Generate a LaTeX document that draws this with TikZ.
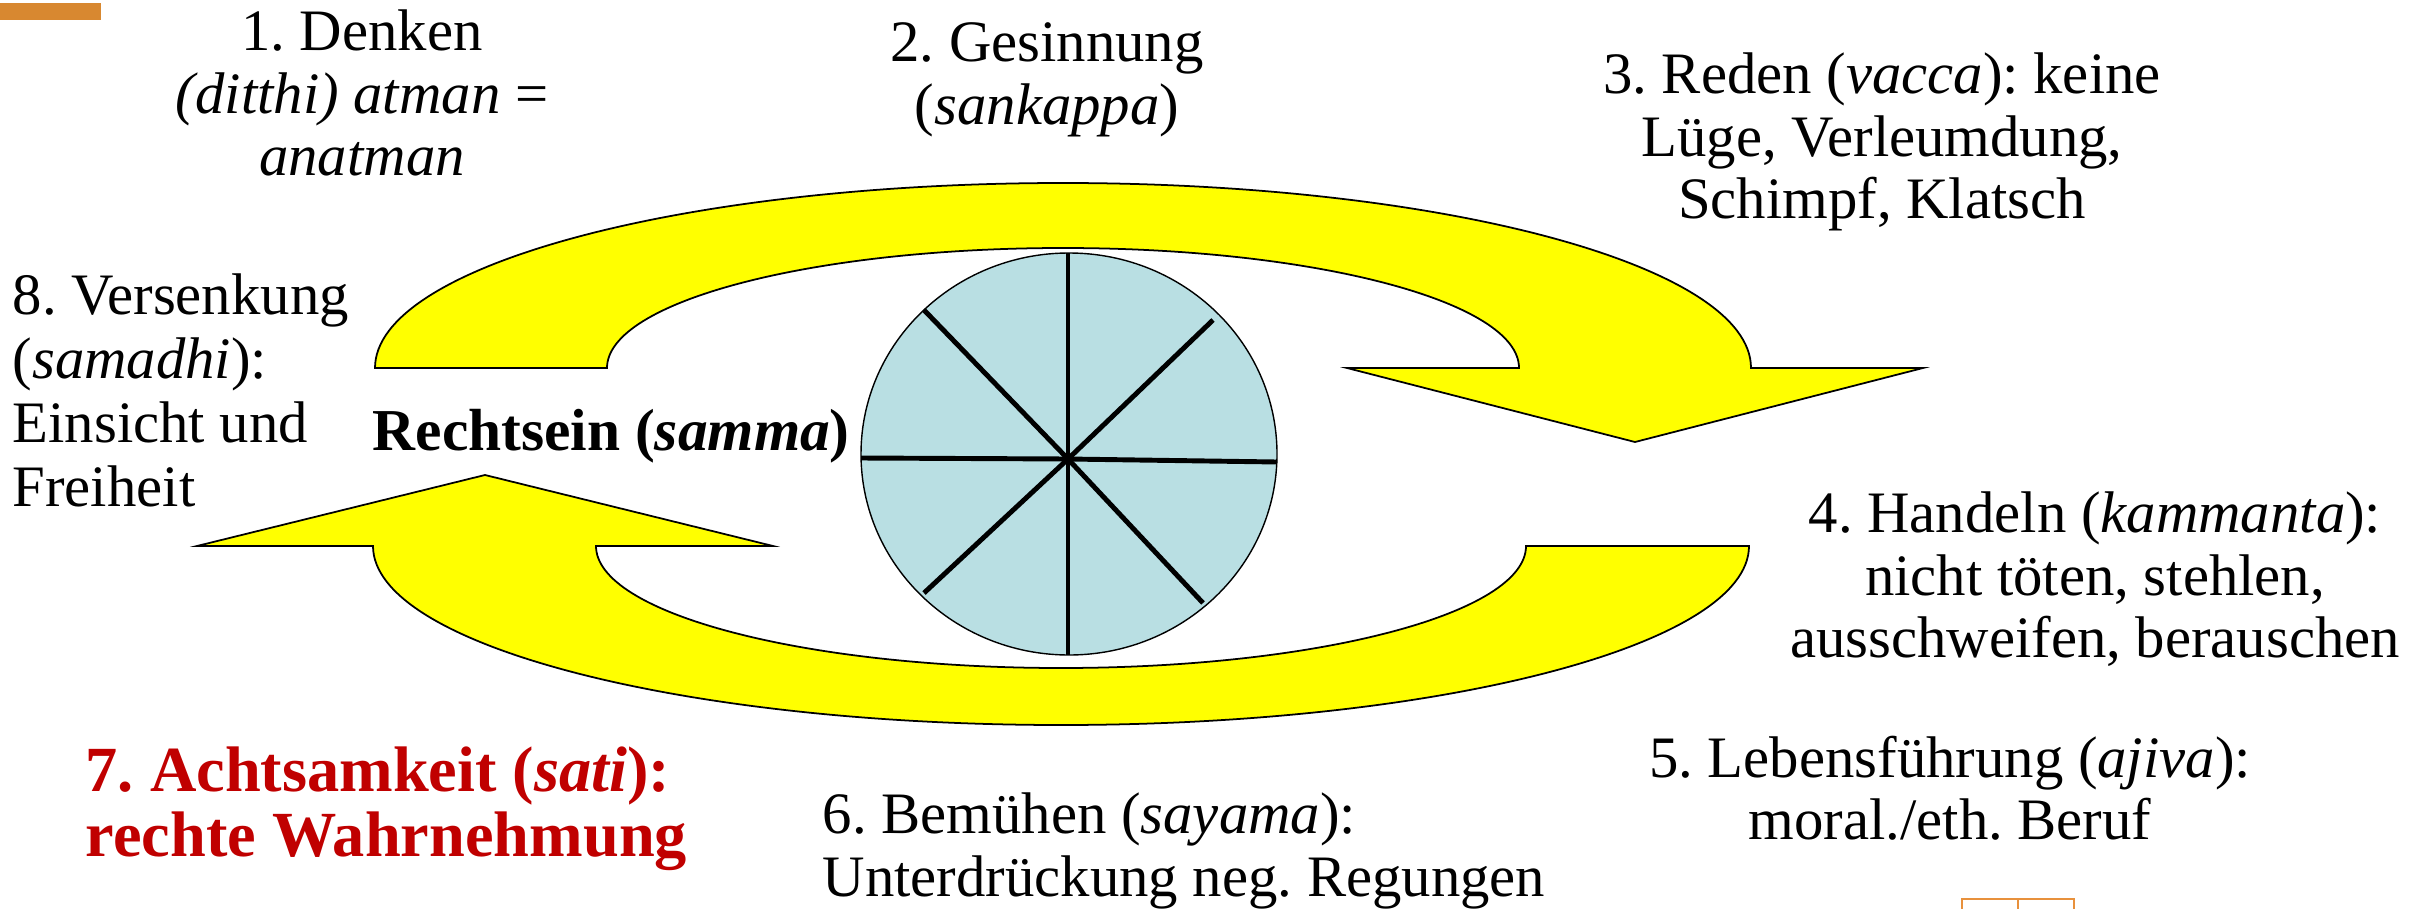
\documentclass[tikz,border=0pt]{standalone}
\usepackage{fontspec}
\setmainfont{Liberation Serif}
\frenchspacing
\definecolor{arrowyellow}{RGB}{255,255,0}
\definecolor{wheelblue}{RGB}{185,223,227}
\definecolor{barorange}{RGB}{216,136,48}
\definecolor{boxorange}{RGB}{232,145,60}
\definecolor{samred}{RGB}{192,0,0}
\begin{document}
\begin{tikzpicture}[x=0.01cm,y=0.01cm,
  lbl/.style={inner sep=0pt, font=\fontsize{16.7}{17.8}\selectfont},
  lbleight/.style={inner sep=0pt, font=\fontsize{16.7}{18.2}\selectfont},
  rslbl/.style={inner sep=0pt, font=\fontsize{16.9}{17.8}\selectfont\bfseries},
  redlbl/.style={inner sep=0pt, text=samred, font=\fontsize{18.3}{18.6}\selectfont\bfseries},
  bigarrow/.style={fill=arrowyellow, draw=black, line width=0.5pt, line join=miter},
  spoke/.style={draw=black, line width=1.4pt}]
\useasboundingbox (0,0) rectangle (2433,-909);

% decorations
\fill[barorange] (0,-3) rectangle (101,-20);
\draw[boxorange, line width=0.5pt] (1962,-912) -- (1962,-899) -- (2074,-899) -- (2074,-912);
\draw[boxorange, line width=0.5pt] (2018,-899) -- (2018,-912);

% upper arrow
\draw[bigarrow] (375,-368) arc[start angle=180, end angle=0, x radius=688, y radius=185]
  -- (1923,-368) -- (1635,-442) -- (1347,-368) -- (1519,-368)
  arc[start angle=0, end angle=180, x radius=456, y radius=120] -- cycle;

% lower arrow
\draw[bigarrow] (197,-546) -- (485,-475) -- (773,-546) -- (596,-546)
  arc[start angle=180, end angle=360, x radius=465, y radius=122]
  -- (1749,-546)
  arc[start angle=0, end angle=-180, x radius=688, y radius=179] -- cycle;

% wheel
\draw[fill=wheelblue, line width=0.4pt] (1069,-454) ellipse [x radius=208, y radius=201];
\coordinate (hub) at (1068,-459);
\coordinate (sW) at (861,-458);
\coordinate (sE) at (1277,-462);
\coordinate (sN) at (1068,-253);
\coordinate (sS) at (1068,-655);
\coordinate (sNW) at (924,-310);
\coordinate (sNE) at (1213,-320);
\coordinate (sSW) at (924,-593);
\coordinate (sSE) at (1203,-603);
\foreach \p in {sW,sE,sN,sS,sNW,sNE,sSW,sSE} \draw[spoke] (hub) -- (\p);

% texts
\node[lbl, align=center, anchor=north] (t1) at (362,-9) {1. Denken\\\textit{(ditthi) atman} =\\\textit{anatman}};
\node[lbl, align=center, anchor=north] (t2) at (1047,-22) {2. Gesinnung\\(\textit{sankappa})};
\node[lbl, align=center, anchor=north] (t3) at (1882,-52) {3. Reden (\textit{vacca}): keine\\Lüge, Verleumdung,\\Schimpf, Klatsch};
\node[lbleight, align=left, anchor=north west] (t8) at (12,-273) {8. Versenkung\\(\textit{samadhi}):\\Einsicht und\\Freiheit};
\node[rslbl, anchor=base west] (rs) at (372,-450) {Rechtsein (\textit{samma})};
\node[lbl, align=center, anchor=north] (t4) at (2095,-491) {4. Handeln (\textit{kammanta}):\\nicht töten, stehlen,\\ausschweifen, berauschen};
\node[lbl, align=center, anchor=north] (t5) at (1950,-735) {5. Lebensführung (\textit{ajiva}):\\moral./eth. Beruf};
\node[lbl, align=left, anchor=north west] (t6) at (822,-792) {6. Bemühen (\textit{sayama}):\\Unterdrückung neg. Regungen};
\node[redlbl, align=left, anchor=north west] (t7) at (85,-746) {7. Achtsamkeit (\textit{sati}):\\rechte Wahrnehmung};
\end{tikzpicture}
\end{document}
